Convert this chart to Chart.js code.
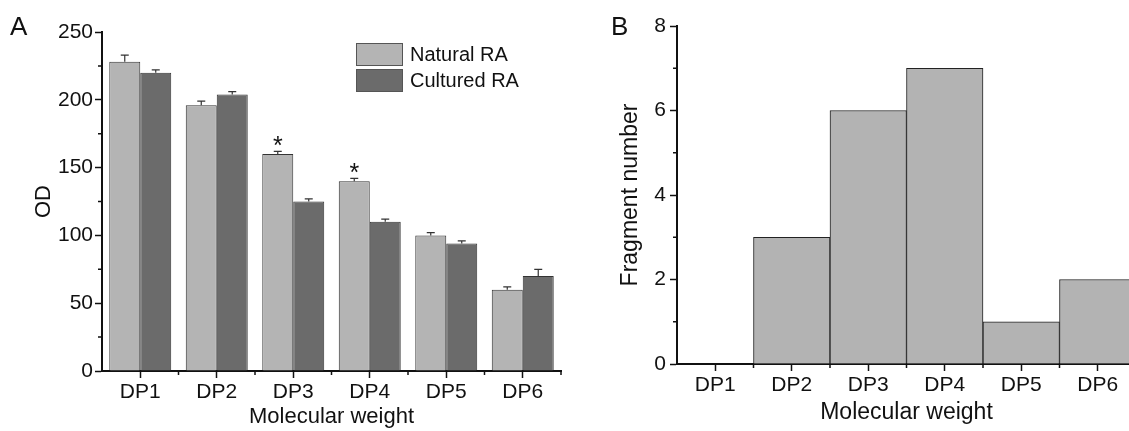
<!DOCTYPE html>
<html>
<head>
<meta charset="utf-8">
<script src="https://cdn.jsdelivr.net/npm/chart.js@4"></script>
<style>
  html, body { margin: 0; padding: 0; background: #fff; overflow: hidden; }
  #wrap { position: relative; width: 1129px; height: 431px; overflow: hidden; }
  canvas { position: absolute; top: 0; }
  #chartA { left: 0; }
  #chartB { left: 570px; }
  .panel { position: absolute; top: 13px; font: 26px 'Liberation Sans', Arial, sans-serif; line-height: 1; color: #111; }
</style>
</head>
<body>
<div id="wrap">
  <canvas id="chartA" width="570" height="431"></canvas>
  <canvas id="chartB" width="570" height="431"></canvas>
  <div class="panel" style="left:10px">A</div>
  <div class="panel" style="left:611px">B</div>
</div>
<script>
// Kategorier og verdier lest av figuren
const categories = ["DP1", "DP2", "DP3", "DP4", "DP5", "DP6"];
const naturalOD = [228, 196, 160, 140, 100, 60];
const naturalErr = [5, 3, 2, 2, 2, 2];
const culturedOD = [220, 204, 125, 110, 94, 70];
const culturedErr = [2, 2, 2, 2, 2, 5];
const significance = ["", "", "*", "*", "", ""];
const fragmentCounts = [0, 3, 6, 7, 1, 2];

const odTicks = [0, 50, 100, 150, 200, 250];
const odMinorTicks = [25, 75, 125, 175, 225];
const fragmentTicks = [0, 2, 4, 6, 8];
const fragmentMinorTicks = [1, 3, 5, 7];

Chart.defaults.font.family = "'Liberation Sans', Arial, sans-serif";
Chart.defaults.color = "#111";

// Feilstolper og stjerner over stolpene
const errorBars = {
  id: "errorBars",
  afterDatasetsDraw(chart) {
    const { ctx } = chart;
    const y = chart.scales.y;
    chart.data.datasets.forEach((ds, di) => {
      if (!ds.errors) return;
      const meta = chart.getDatasetMeta(di);
      meta.data.forEach((bar, i) => {
        const top = y.getPixelForValue(ds.data[i] + ds.errors[i]);
        ctx.save();
        ctx.strokeStyle = "#333";
        ctx.lineWidth = 1.2;
        ctx.beginPath();
        ctx.moveTo(bar.x, bar.y);
        ctx.lineTo(bar.x, top);
        ctx.moveTo(bar.x - 4, top);
        ctx.lineTo(bar.x + 4, top);
        ctx.stroke();
        if (ds.marks && ds.marks[i]) {
          ctx.fillStyle = "#111";
          ctx.font = "25px 'Liberation Sans', Arial";
          ctx.textAlign = "center";
          ctx.textBaseline = "alphabetic";
          ctx.fillText(ds.marks[i], bar.x, top + 3);
        }
        ctx.restore();
      });
    });
  },
};

// Små merker på aksene
const minorTicks = {
  id: "minorTicks",
  afterDraw(chart, args, opts) {
    const { ctx } = chart;
    const { x, y } = chart.scales;
    ctx.save();
    ctx.strokeStyle = "#111";
    ctx.lineWidth = 1.5;
    ctx.beginPath();
    opts.yValues.forEach((v) => {
      const py = y.getPixelForValue(v);
      ctx.moveTo(y.right - 4, py);
      ctx.lineTo(y.right, py);
    });
    const step = x.getPixelForValue(1) - x.getPixelForValue(0);
    for (let i = 1; i <= categories.length; i++) {
      const px = x.getPixelForValue(i) - step / 2;
      ctx.moveTo(px, x.top);
      ctx.lineTo(px, x.top + 4);
    }
    ctx.stroke();
    ctx.restore();
  },
};

// Forklaring inne i plottet (A)
const boxLegend = {
  id: "boxLegend",
  afterDraw(chart, args, opts) {
    if (!opts.display) return;
    const { ctx } = chart;
    chart.data.datasets.forEach((ds, i) => {
      const top = opts.y + i * (opts.h + opts.gap);
      ctx.save();
      ctx.fillStyle = ds.backgroundColor;
      ctx.fillRect(opts.x, top, opts.w, opts.h);
      ctx.strokeStyle = "#555";
      ctx.lineWidth = 1;
      ctx.strokeRect(opts.x + 0.5, top + 0.5, opts.w - 1, opts.h - 1);
      ctx.fillStyle = "#111";
      ctx.font = "20px 'Liberation Sans', Arial";
      ctx.textBaseline = "middle";
      ctx.fillText(ds.label, opts.x + opts.w + 7, top + opts.h / 2 + 1);
      ctx.restore();
    });
  },
};

function axisX(height, titleSize, titleBottom) {
  return {
    offset: true,
    afterFit: (s) => { s.height = height; },
    grid: { offset: false, drawOnChartArea: false, tickLength: 7, tickWidth: 1.5, tickColor: "#111" },
    border: { color: "#111", width: 2 },
    ticks: { font: { size: 21 }, padding: 2, color: "#111" },
    title: { display: true, text: "Molecular weight", font: { size: titleSize }, padding: { top: 0, bottom: titleBottom }, color: "#111" },
  };
}

function axisY(width, max, ticks, title, titleSize, titleTop, pad) {
  return {
    min: 0,
    max: max,
    afterFit: (s) => { s.width = width; },
    afterBuildTicks: (s) => { s.ticks = ticks.map((v) => ({ value: v })); },
    grid: { drawOnChartArea: false, tickLength: 7, tickWidth: 1.5, tickColor: "#111" },
    border: { color: "#111", width: 2 },
    ticks: { font: { size: 21 }, padding: pad, color: "#111" },
    title: { display: true, text: title, font: { size: titleSize }, padding: { top: titleTop, bottom: 0 }, color: "#111" },
  };
}

new Chart(document.getElementById("chartA"), {
  type: "bar",
  data: {
    labels: categories,
    datasets: [
      {
        label: "Natural RA",
        data: naturalOD,
        errors: naturalErr,
        marks: significance,
        backgroundColor: "#b4b4b4",
        borderColor: "#333",
        borderWidth: 1,
      },
      {
        label: "Cultured RA",
        data: culturedOD,
        errors: culturedErr,
        backgroundColor: "#6b6b6b",
        borderColor: "#333",
        borderWidth: 1,
      },
    ],
  },
  options: {
    responsive: false,
    animation: false,
    layout: { padding: { top: 32, right: 9, left: 0, bottom: 0 } },
    categoryPercentage: 0.81,
    barPercentage: 1.0,
    plugins: {
      legend: { display: false },
      tooltip: { enabled: false },
      minorTicks: { yValues: odMinorTicks },
      boxLegend: { display: true, x: 356, y: 43, w: 47, h: 23, gap: 3 },
    },
    scales: {
      x: axisX(60, 22, 1),
      y: axisY(102, 250, odTicks, "OD", 22, 31, 2),
    },
  },
  plugins: [errorBars, minorTicks, boxLegend],
});

new Chart(document.getElementById("chartB"), {
  type: "bar",
  data: {
    labels: categories,
    datasets: [
      {
        label: "Fragment number",
        data: fragmentCounts,
        backgroundColor: "#b3b3b3",
        borderColor: "#222",
        borderWidth: 1,
      },
    ],
  },
  options: {
    responsive: false,
    animation: false,
    layout: { padding: { top: 26, right: 4, left: 0, bottom: 0 } },
    categoryPercentage: 1.0,
    barPercentage: 1.0,
    plugins: {
      legend: { display: false },
      tooltip: { enabled: false },
      minorTicks: { yValues: fragmentMinorTicks },
      boxLegend: { display: false },
    },
    scales: {
      x: axisX(67, 23, 5),
      y: axisY(107, 8, fragmentTicks, "Fragment number", 23, 47, 4),
    },
  },
  plugins: [minorTicks, boxLegend],
});
</script>
</body>
</html>
